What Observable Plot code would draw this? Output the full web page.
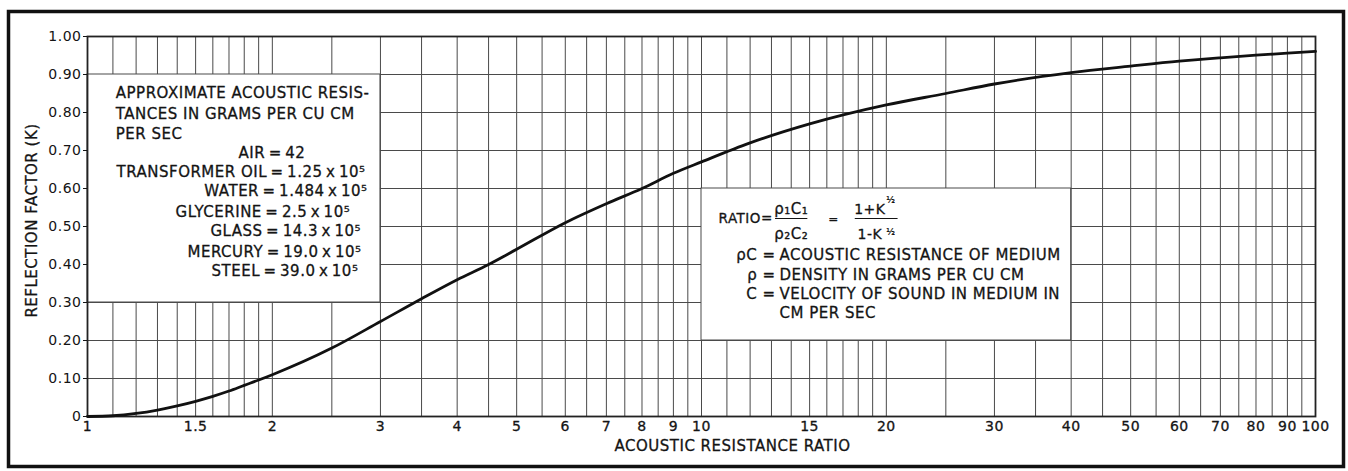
<!DOCTYPE html>
<html>
<head>
<meta charset="utf-8">
<script src="https://cdn.jsdelivr.net/npm/d3@7"></script>
<script src="https://cdn.jsdelivr.net/npm/@observablehq/plot@0.6"></script>
<style>
  html, body { margin: 0; padding: 0; background: #fff; }
  #chart svg text { letter-spacing: 0.5px; }
</style>
</head>
<body>
<div id="chart"></div>
<script>
// ---- data ----
const ratio = [1, 1.1, 1.2, 1.3, 1.4, 1.5, 1.6, 1.7, 1.8, 1.9, 2, 2.5, 3, 3.5, 4, 4.5, 5, 6, 7, 8, 9, 10, 12, 15, 20, 25, 30, 40, 50, 60, 70, 80, 90, 100];
const reflection = [0, 0.002, 0.008, 0.017, 0.028, 0.04, 0.053, 0.067, 0.082, 0.096, 0.11, 0.18, 0.25, 0.31, 0.36, 0.40, 0.44, 0.51, 0.56, 0.60, 0.64, 0.67, 0.72, 0.77, 0.82, 0.85, 0.875, 0.905, 0.922, 0.935, 0.944, 0.951, 0.956, 0.961];

const xTickValues = [1, 1.5, 2, 3, 4, 5, 6, 7, 8, 9, 10, 15, 20, 30, 40, 50, 60, 70, 80, 90, 100];
const xTickLabels = ["1", "1.5", "2", "3", "4", "5", "6", "7", "8", "9", "10", "15", "20", "30", "40", "50", "60", "70", "80", "90", "100"];
const yTickValues = [0, 0.1, 0.2, 0.3, 0.4, 0.5, 0.6, 0.7, 0.8, 0.9, 1.0];
const yTickLabels = ["0", "0.10", "0.20", "0.30", "0.40", "0.50", "0.60", "0.70", "0.80", "0.90", "1.00"];
const xGridValues = [1.1, 1.2, 1.3, 1.4, 1.5, 1.6, 1.7, 1.8, 1.9, 2, 2.5, 3, 3.5, 4, 4.5, 5, 5.5, 6, 6.5, 7, 7.5, 8, 8.5, 9, 9.5, 10,
  11, 12, 13, 14, 15, 16, 17, 18, 19, 20, 25, 30, 35, 40, 45, 50, 55, 60, 65, 70, 75, 80, 85, 90, 95];
const yGridValues = [0.1, 0.2, 0.3, 0.4, 0.5, 0.6, 0.7, 0.8, 0.9];

const xLabel = "ACOUSTIC RESISTANCE RATIO";
const yLabel = "REFLECTION FACTOR (K)";

const T = "\u2009"; // thin space, as in the hand lettering
const leftNoteLines = [
  "APPROXIMATE ACOUSTIC RESIS-",
  "TANCES IN GRAMS PER CU CM",
  "PER SEC",
  `AIR${T}=${T}42`,
  `TRANSFORMER OIL${T}=${T}1.25${T}x${T}10⁵`,
  `WATER${T}=${T}1.484${T}x${T}10⁵`,
  `GLYCERINE${T}=${T}2.5${T}x${T}10⁵`,
  `GLASS${T}=${T}14.3${T}x${T}10⁵`,
  `MERCURY${T}=${T}19.0${T}x${T}10⁵`,
  `STEEL${T}=${T}39.0${T}x${T}10⁵`
];
const rightNoteSymbols = ["ρC =", "ρ =", "C =", ""];
const rightNoteLines = [
  "ACOUSTIC RESISTANCE OF MEDIUM",
  "DENSITY IN GRAMS PER CU CM",
  "VELOCITY OF SOUND IN MEDIUM IN",
  "CM PER SEC"
];

// ---- annotation layout (data space) ----
const leftNoteX = [1.112, 1.112, 1.112, 1.762, 1.115, 1.55, 1.391, 1.586, 1.455, 1.592];
const leftNoteY = [0.837, 0.782, 0.729, 0.679, 0.629, 0.579, 0.526, 0.474, 0.421, 0.371];
const leftNotes = leftNoteLines.map((t, i) => ({t, x: leftNoteX[i], y: leftNoteY[i]}));
const rightNoteY = [0.411, 0.358, 0.308, 0.258];
const rightNotes = rightNoteLines.map((t, i) => ({t, s: rightNoteSymbols[i], y: rightNoteY[i]}));
const boxes = [
  {x1: 1, x2: 3, y1: 0.3, y2: 0.9},
  {x1: 10, x2: 40, y1: 0.2, y2: 0.6}
];

const curve = ratio.map((r, i) => ({r, k: reflection[i]}));
const font = "'DejaVu Sans', sans-serif";
const ink = "#141414";
const gridColor = "#4a4a4a";
const bold = {fill: ink, stroke: ink, strokeWidth: 0.3};

const chart = Plot.plot({
  width: 1348,
  height: 471,
  marginLeft: 87,
  marginRight: 33,
  marginTop: 36,
  marginBottom: 55,
  style: {fontFamily: font, fontSize: "14px", color: ink, background: "#fff"},
  x: {type: "log", domain: [1, 100], axis: null},
  y: {domain: [0, 1]},
  marks: [
    Plot.ruleX(xGridValues, {stroke: gridColor, strokeWidth: 1}),
    Plot.ruleY(yGridValues, {stroke: gridColor, strokeWidth: 1}),
    Plot.rect(boxes, {x1: "x1", x2: "x2", y1: "y1", y2: "y2", fill: "#fff", stroke: gridColor, strokeWidth: 1}),
    Plot.frame({stroke: "#222", strokeWidth: 1.8}),
    // x tick labels (no tick marks in the reference)
    Plot.text(xTickValues, {x: (d) => d, text: (d, i) => xTickLabels[i], frameAnchor: "bottom", lineAnchor: "top", dy: 5, fontSize: 14, ...bold}),
    Plot.axisY({ticks: yTickValues, tickFormat: (d) => yTickLabels[yTickValues.indexOf(d)], tickSize: 4, tickPadding: 2, label: null, fontSize: 14}),
    Plot.line(curve, {x: "r", y: "k", stroke: "#111", strokeWidth: 2.8, curve: "monotone-x"}),
    // axis titles
    Plot.text([xLabel], {text: (d) => d, frameAnchor: "bottom", textAnchor: "middle", dx: 31, dy: 34, fontSize: 15, ...bold}),
    Plot.text([yLabel], {text: (d) => d, frameAnchor: "left", textAnchor: "middle", rotate: -90, dx: -55, dy: -6, fontSize: 15, ...bold}),
    // left note
    Plot.text(leftNotes, {x: "x", y: "y", text: "t", textAnchor: "start", lineAnchor: "bottom", fontSize: 15, ...bold}),
    // right note: formula
    Plot.text(["RATIO="], {text: (d) => d, x: 10.66, y: 0.508, textAnchor: "start", lineAnchor: "bottom", fontSize: 13.5, ...bold}),
    Plot.text(["ρ₁C₁"], {text: (d) => d, x: 14.0, y: 0.534, lineAnchor: "bottom", fontSize: 15, ...bold}),
    Plot.text(["ρ₂C₂"], {text: (d) => d, x: 14.0, y: 0.468, lineAnchor: "bottom", fontSize: 15, ...bold}),
    Plot.ruleY([0.521], {x1: 13.2, x2: 14.9, stroke: ink, strokeWidth: 1.2}),
    Plot.text(["="], {text: (d) => d, x: 16.4, y: 0.508, lineAnchor: "bottom", fontSize: 12, ...bold}),
    Plot.text(["1+K"], {text: (d) => d, x: 18.8, y: 0.534, lineAnchor: "bottom", fontSize: 14, ...bold}),
    Plot.text(["½"], {text: (d) => d, x: 20.35, y: 0.562, lineAnchor: "bottom", fontSize: 9, ...bold}),
    Plot.ruleY([0.521], {x1: 17.8, x2: 20.9, stroke: ink, strokeWidth: 1.2}),
    Plot.text(["1-K"], {text: (d) => d, x: 18.8, y: 0.468, lineAnchor: "bottom", fontSize: 14, ...bold}),
    Plot.text(["½"], {text: (d) => d, x: 20.35, y: 0.478, lineAnchor: "bottom", fontSize: 9, ...bold}),
    // right note: definitions
    Plot.text(rightNotes, {x: 13.2, y: "y", text: "s", textAnchor: "end", lineAnchor: "bottom", fontSize: 15, ...bold}),
    Plot.text(rightNotes, {x: 13.4, y: "y", text: "t", textAnchor: "start", lineAnchor: "bottom", fontSize: 15, ...bold}),
    // outer border of the figure
    Plot.frame({stroke: "#111", strokeWidth: 3.5, insetLeft: -79, insetTop: -25, insetRight: -28, insetBottom: -50})
  ]
});
document.getElementById("chart").appendChild(chart);
</script>
</body>
</html>
